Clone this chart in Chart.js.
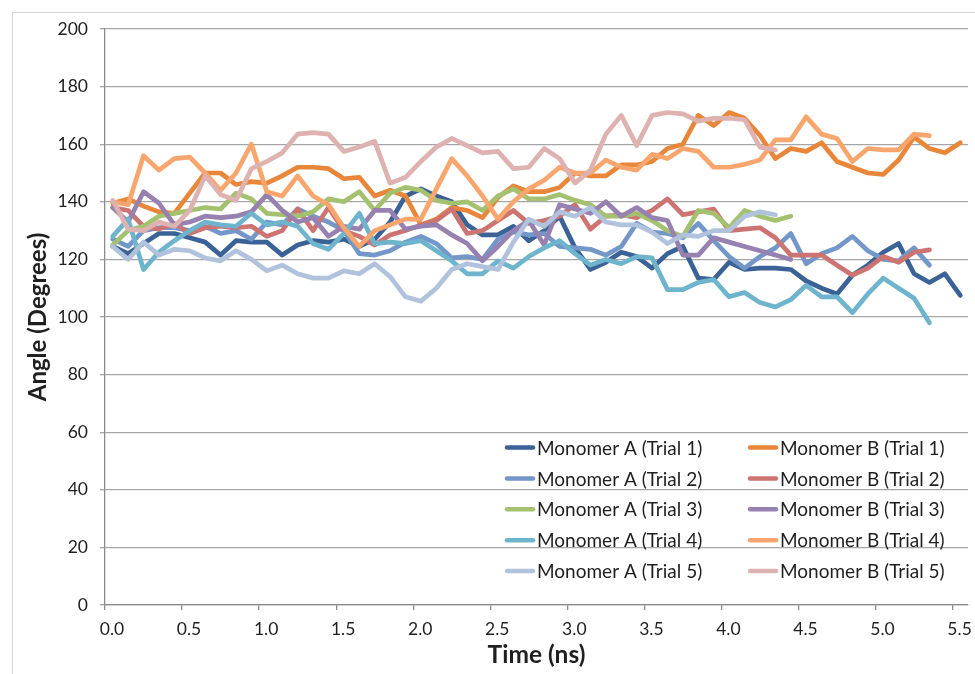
<!DOCTYPE html>
<html>
<head>
<meta charset="utf-8">
<script src="https://cdn.jsdelivr.net/npm/chart.js@4.4.1/dist/chart.umd.min.js"></script>
<style>
  html, body { margin: 0; padding: 0; background: #fff; overflow: hidden; }
  #wrap { position: relative; width: 975px; height: 674px; }
  #frame { position: absolute; left: 12px; top: 12px; width: 1000px; height: 700px; border: 1px solid #d4d4d4; }
  #chart { position: absolute; left: 0; top: 0; }
</style>
</head>
<body>
<div id="wrap">
  <div id="frame"></div>
  <canvas id="chart" width="975" height="674"></canvas>
</div>
<script>
// time axis (ns), one sample every 0.1 ns
const timeNs = [0.05, 0.15, 0.25, 0.35, 0.45, 0.55, 0.65, 0.75, 0.85, 0.95,
  1.05, 1.15, 1.25, 1.35, 1.45, 1.55, 1.65, 1.75, 1.85, 1.95,
  2.05, 2.15, 2.25, 2.35, 2.45, 2.55, 2.65, 2.75, 2.85, 2.95,
  3.05, 3.15, 3.25, 3.35, 3.45, 3.55, 3.65, 3.75, 3.85, 3.95,
  4.05, 4.15, 4.25, 4.35, 4.45, 4.55, 4.65, 4.75, 4.85, 4.95,
  5.05, 5.15, 5.25, 5.35, 5.45, 5.55];

// angle values (degrees)
const monoA1 = [124.5, 122, 125.5, 129, 129, 127.5, 126, 121.5, 126.5, 126,
  126, 121.5, 125, 126.5, 126, 127, 124.5, 127, 133, 142,
  144.5, 142, 140, 132, 128.5, 128.5, 131.5, 126.5, 130, 135,
  124, 116.5, 119, 122.5, 121, 117, 122, 124.5, 113.5, 113,
  119, 116.5, 117, 117, 116.5, 112.5, 110, 108, 114.5, 118,
  122.5, 125.5, 115, 112, 115, 107.5];
const monoB1 = [139.5, 141, 138.5, 136.5, 136, 143, 150, 150, 146, 147,
  146.5, 149, 152, 152, 151.5, 148, 148.5, 142, 144, 142,
  132, 134, 138, 137, 134.5, 141.5, 145.5, 143.5, 143.5, 145,
  150, 149, 149, 152.8, 152.8, 154, 158.5, 160, 170, 166.5,
  171, 169, 163, 155, 158.5, 157.5, 160.5, 154, 152, 150,
  149.5, 154.5, 162.5, 158.5, 157, 160.5];
const monoA2 = [127, 124.5, 130, 131, 131, 130, 131.5, 129, 130, 127,
  133, 132, 137.5, 135, 133, 130, 122, 121.5, 123, 126,
  128, 125.5, 120.5, 121, 120, 127, 129.5, 128.5, 129, 124.5,
  124, 123.5, 121.5, 124.5, 132.5, 129.5, 129, 127.5, 132.5, 126.5,
  121, 117, 121, 124, 129, 118.5, 122, 124, 128, 123,
  120, 119.5, 124, 118];
const monoB2 = [138, 137, 131.5, 130.5, 132.5, 129, 131, 131.5, 131, 131.5,
  128, 130, 137.5, 130, 138, 130, 128, 125, 128.5, 130,
  132, 133.5, 137.5, 129, 130, 133.5, 137, 132.5, 133.5, 135,
  139, 130.5, 135, 135.5, 134.5, 137, 141, 135.5, 136.5, 137.5,
  130, 130.5, 131, 127.5, 121.5, 121.5, 121.5, 118, 114.5, 117,
  121, 119, 122.5, 123.3];
const monoA3 = [125, 130, 131.5, 135, 136, 137, 138, 137.5, 143, 141,
  136, 135.5, 135, 136.5, 141, 140, 143.5, 137, 143, 145,
  144, 140.5, 139.5, 140, 137, 142, 144.5, 141, 141, 142.5,
  140.5, 139, 135, 135, 136, 133.5, 130, 128, 137, 136,
  131, 137, 135, 133.5, 135];
const monoB3 = [138, 133, 143.5, 139.5, 132, 133, 135, 134.5, 135, 136.5,
  142.5, 137, 133, 134.5, 128, 131.5, 130.5, 137, 137, 130.5,
  131.5, 132, 128.5, 125.5, 119.5, 124.5, 130, 133.5, 125, 139,
  137.5, 136, 140, 135, 138, 134.5, 133.5, 121.5, 121.5, 127.5,
  126, 124.5, 123, 121.5, 120];
const monoA4 = [128, 134, 116.5, 122.5, 126.5, 130, 133, 132, 131.5, 136,
  132, 133, 131.5, 125.5, 123.5, 129, 136, 125.5, 126, 125.5,
  126.5, 123, 119.5, 115, 115, 119.5, 117, 121, 124, 126.5,
  122, 118, 120, 118.5, 121, 120.5, 109.5, 109.5, 112, 113,
  107, 108.5, 105, 103.5, 106, 111, 107, 107, 101.5, 108,
  113.5, 110, 106.5, 98];
const monoB4 = [140, 139, 156, 151, 155, 155.5, 150, 144, 150, 160,
  143.5, 142, 149, 142, 139, 131, 124.5, 130, 132, 134,
  134, 144.5, 155, 149, 142, 134, 140, 144.5, 147.5, 152,
  150, 150, 154.5, 152, 151, 156.5, 155, 158.5, 157.5, 152,
  152, 153, 154.5, 161.5, 161.5, 169.5, 163.5, 162, 154, 158.5,
  158, 158, 163.5, 163];
const monoA5 = [124.5, 120, 126, 121.5, 123.5, 123, 120.5, 119.5, 123, 120,
  116, 118, 115, 113.5, 113.5, 116, 115, 118.5, 114, 107,
  105.5, 110, 116.5, 118.5, 117.5, 116.5, 126, 134, 131.5, 136.5,
  135, 138, 133, 132, 132, 129.5, 125.5, 128.5, 128, 130,
  130, 135, 136.5, 135.5];
const monoB5 = [140.5, 130.5, 130, 133, 131.5, 137, 149, 142.5, 140.5, 151.5,
  154, 157, 163.5, 164, 163.5, 157.5, 159, 161, 146.5, 148.5,
  154, 159, 162, 159.5, 157, 157.5, 151.5, 152, 158.5, 155,
  146.5, 151, 163.5, 170, 159.5, 170, 171, 170.5, 168, 169,
  169, 168.5, 159, 158];

const seriesNames = ['Monomer A (Trial 1)', 'Monomer B (Trial 1)',
  'Monomer A (Trial 2)', 'Monomer B (Trial 2)',
  'Monomer A (Trial 3)', 'Monomer B (Trial 3)',
  'Monomer A (Trial 4)', 'Monomer B (Trial 4)',
  'Monomer A (Trial 5)', 'Monomer B (Trial 5)'];
const seriesValues = [monoA1, monoB1, monoA2, monoB2, monoA3, monoB3, monoA4, monoB4, monoA5, monoB5];
const seriesColors = ['#3b6296', '#e8873a', '#7397c9', '#cd7472', '#a4c170',
  '#9681b0', '#6db4cc', '#f9a66e', '#b1c2dc', '#ddb2b1'];

const textColor = '#1f1f1f';
const fontFamily = 'Lato, "Open Sans", sans-serif';

// legend drawn inside the plot, two columns
const insideLegend = {
  id: 'insideLegend',
  afterDraw(chart) {
    const ctx = chart.ctx;
    const cols = [505, 748];
    const rowTop = 447.5, rowGap = 30.9;
    ctx.save();
    ctx.font = '19px ' + fontFamily;
    ctx.textBaseline = 'middle';
    ctx.fillStyle = textColor;
    ctx.lineCap = 'round';
    ctx.lineWidth = 4.5;
    chart.data.datasets.forEach(function (ds, i) {
      const x = cols[i % 2];
      const y = rowTop + Math.floor(i / 2) * rowGap;
      ctx.strokeStyle = ds.borderColor;
      ctx.beginPath();
      ctx.moveTo(x + 2, y);
      ctx.lineTo(x + 28, y);
      ctx.stroke();
      ctx.fillText(ds.label, x + 32, y + 1);
    });
    ctx.restore();
  }
};

const datasets = seriesValues.map(function (vals, i) {
  return {
    label: seriesNames[i],
    data: vals.map(function (v, k) { return { x: timeNs[k], y: v }; }),
    borderColor: seriesColors[i],
    backgroundColor: seriesColors[i],
    borderWidth: 4.7,
    borderJoinStyle: 'round',
    borderCapStyle: 'round',
    pointRadius: 0,
    tension: 0,
    order: seriesValues.length - i
  };
});

new Chart(document.getElementById('chart'), {
  type: 'line',
  data: { datasets: datasets },
  options: {
    responsive: false,
    animation: false,
    devicePixelRatio: 1,
    layout: { padding: { left: 0, right: 7, top: 29, bottom: 0 } },
    plugins: {
      legend: { display: false },
      tooltip: { enabled: false }
    },
    scales: {
      x: {
        type: 'linear',
        min: 0,
        max: 5.6,
        afterFit: function (s) { s.height = 69; },
        ticks: {
          stepSize: 0.5,
          includeBounds: false,
          autoSkip: false,
          maxRotation: 0,
          padding: 9,
          labelOffset: 7,
          color: textColor,
          font: { family: fontFamily, size: 17.5 },
          callback: function (v) { return Number(v).toFixed(1); }
        },
        grid: { drawOnChartArea: false, drawTicks: true, tickLength: 5, color: '#8c8c8c', lineWidth: 1.3 },
        border: { color: '#8c8c8c', width: 1.3 },
        title: {
          display: true,
          text: 'Time (ns)',
          color: textColor,
          font: { family: fontFamily, size: 24.5, weight: 'bold' },
          padding: { top: 0, bottom: 4 }
        }
      },
      y: {
        min: 0,
        max: 200,
        afterFit: function (s) { s.width = 105; },
        ticks: {
          stepSize: 20,
          padding: 12,
          color: textColor,
          font: { family: fontFamily, size: 17.5 }
        },
        grid: { color: '#a6a6a6', lineWidth: 1.3, tickLength: 5 },
        border: { color: '#8c8c8c', width: 1.3 },
        title: {
          display: true,
          text: 'Angle (Degrees)',
          color: textColor,
          font: { family: fontFamily, size: 24, weight: 'bold' },
          padding: { top: 24, bottom: 0 }
        }
      }
    }
  },
  plugins: [insideLegend]
});
</script>
</body>
</html>
